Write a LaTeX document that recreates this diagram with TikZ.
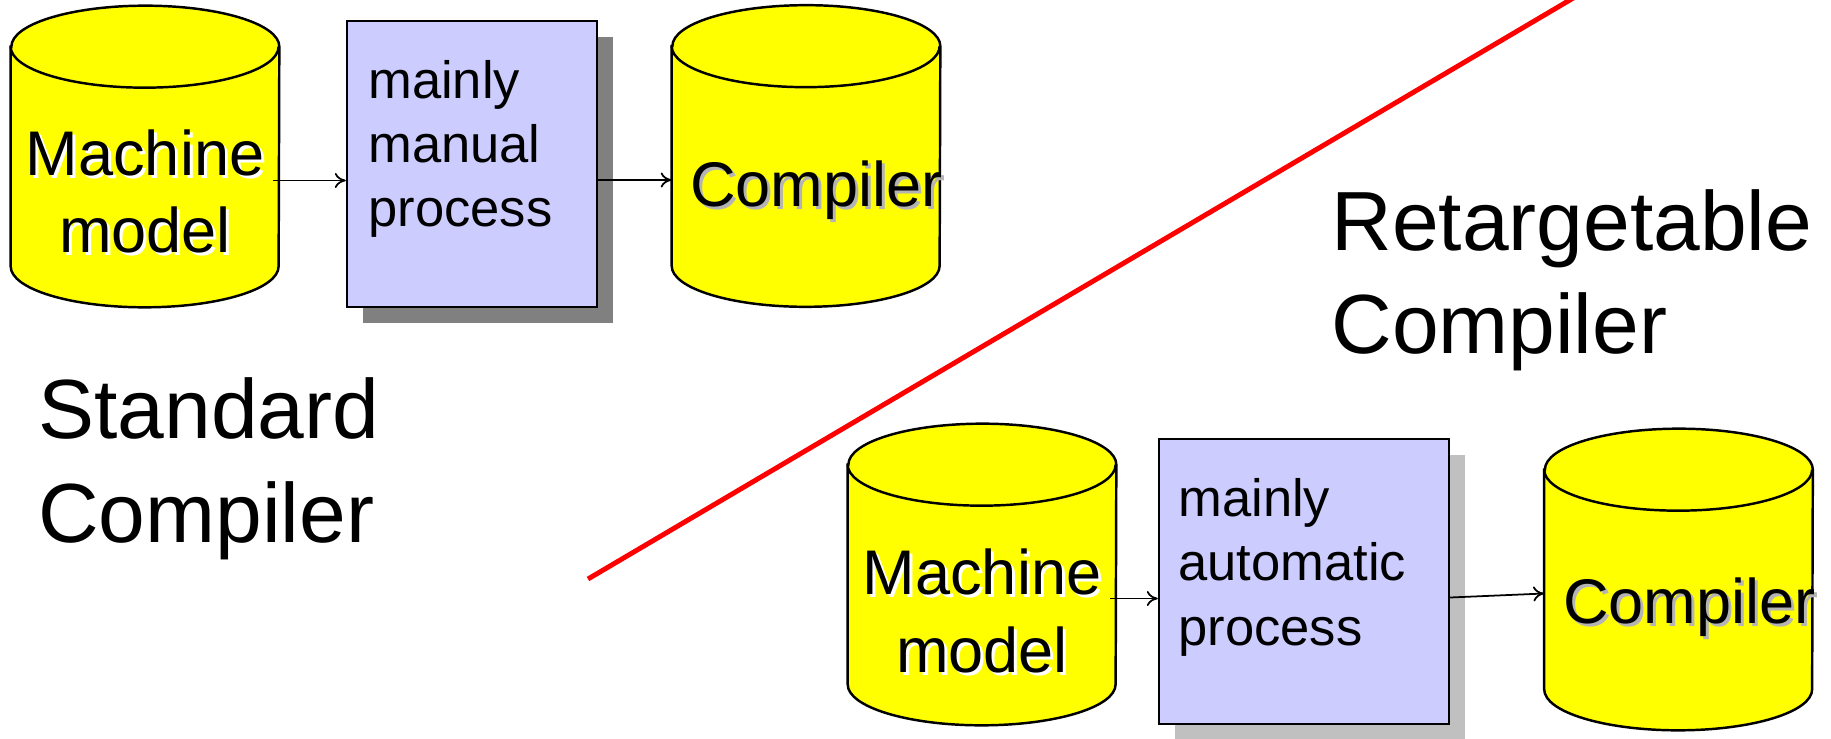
\documentclass[tikz,border=0pt]{standalone}
\usepackage{fontspec}
\setmainfont{Liberation Sans}
\usepackage{tikz}
\usetikzlibrary{arrows.meta, shadows}

\definecolor{procblue}{HTML}{CCCCFF}
\definecolor{drumyellow}{HTML}{FFFF00}
\definecolor{darkshadow}{HTML}{808080}
\definecolor{lightshadow}{HTML}{C0C0C0}
\definecolor{textshadow}{HTML}{B4B4B4}

% text with a copy of itself set slightly down and right behind it
\newcommand{\liftedtext}[2]{\rlap{\kern0.06cm\raisebox{-0.06cm}{\textcolor{#1}{#2}}}#2}

% yellow drum drawn round the frame of a drum node
\newcommand{\drawdrum}[1]{%
  \filldraw[drumline]
    ([yshift=-0.82cm]#1.north west) -- ([yshift=0.82cm]#1.south west)
    arc[start angle=180, end angle=360, x radius=2.68cm, y radius=0.82cm]
    -- ([yshift=-0.82cm]#1.north east)
    arc[start angle=0, end angle=180, x radius=2.68cm, y radius=0.82cm]
    -- cycle;
  \draw[drumline, fill=none] ([yshift=-0.82cm]#1.north west)
    arc[start angle=180, end angle=360, x radius=2.68cm, y radius=0.82cm];
}

\begin{document}
\begin{tikzpicture}[
    x=0.02cm, y=-0.02cm,
    >=Latex,
    drum/.style={rectangle, inner sep=0pt,
                 minimum width=5.36cm, minimum height=6.02cm},
    drumline/.style={draw=black, fill=drumyellow, line width=1.4pt},
    procbox/.style={rectangle, draw, line width=1.4pt, fill=procblue, inner sep=0pt},
    drumtext/.style={inner sep=0pt, align=center,
                     font=\fontsize{35.9pt}{44pt}\selectfont},
    proctext/.style={inner sep=0pt, align=left,
                     font=\fontsize{29.9pt}{36.6pt}\selectfont},
    title/.style={inner sep=0pt, align=left,
                  font=\fontsize{47.8pt}{59pt}\selectfont},
    arrow/.style={-{To[length=0.22cm, width=0.3cm]}, line width=1pt}
]
\useasboundingbox (0,0) rectangle (1831,739);

% dividing line
\draw[red, line width=2.8pt] (588,579) -- (1575,-3);

% standard compiler (top row)
\node[drum] (model1) at (145,156.5) {};
\drawdrum{model1}
\node[procbox, minimum width=5cm, minimum height=5.72cm,
      drop shadow={shadow xshift=0.32cm, shadow yshift=-0.32cm,
                   fill=darkshadow, opacity=1}] (manual) at (472,164) {};
\node[drum] (comp1) at (806,156) {};
\drawdrum{comp1}

\node[drumtext, anchor=base] (model1txt) at (145,253)
    {\liftedtext{white}{Machine}\\\liftedtext{white}{model}};
\node[proctext, anchor=base west] (manualtxt) at (368,227)
    {mainly\\manual\\process};
\node[drumtext, anchor=base west] (comp1txt) at (690,207)
    {\liftedtext{textshadow}{Compiler}};

\draw[arrow] ([shift={(-6,24)}]model1.east) coordinate (a1) -- (a1 -| manual.west);
\draw[arrow] ([shift={(0,16)}]manual.east) coordinate (a2) -- (a2 -| comp1.west);

\node[title, anchor=base west] (stdlabel) at (38,542) {Standard\\Compiler};

% retargetable compiler (bottom row)
\node[title, anchor=base west] (retlabel) at (1331,354) {Retargetable\\Compiler};

\node[drum] (model2) at (982,574.5) {};
\drawdrum{model2}
\node[procbox, minimum width=5.8cm, minimum height=5.7cm,
      drop shadow={shadow xshift=0.32cm, shadow yshift=-0.32cm,
                   fill=lightshadow, opacity=1}] (auto) at (1304,581.5) {};
\node[drum] (comp2) at (1678.5,579.5) {};
\drawdrum{comp2}

\node[drumtext, anchor=base] (model2txt) at (982,672)
    {\liftedtext{white}{Machine}\\\liftedtext{white}{model}};
\node[proctext, anchor=base west] (autotxt) at (1178,645)
    {mainly\\automatic\\process};
\node[drumtext, anchor=base west] (comp2txt) at (1563,623)
    {\liftedtext{textshadow}{Compiler}};

\draw[arrow] ([shift={(-6,24)}]model2.east) coordinate (a3) -- (a3 -| auto.west);
\draw[arrow] ([shift={(0,16)}]auto.east) -- ([shift={(0,14)}]comp2.west);

\end{tikzpicture}
\end{document}
